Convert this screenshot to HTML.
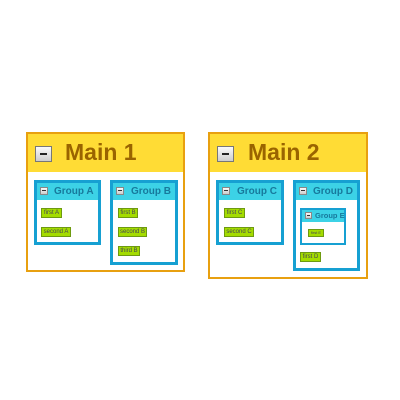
<!DOCTYPE html>
<html><head><style>
body{margin:0;width:400px;height:400px;background:#fff;position:relative;font-family:"Liberation Sans",sans-serif;overflow:hidden}
.a{position:absolute;box-sizing:border-box}
.main{border:2px solid #e8a010;background:#fff}
.mh{background:#ffdc35}
.mb{background:linear-gradient(#fafafa,#ccc);border:1px solid #777}
.mb:after{content:"";position:absolute;left:25%;right:25%;top:45%;height:2px;background:#222}
.mt{font-weight:bold;font-size:23px;color:#9a6400}
.g{border:3px solid #16a0d2;background:#fff}
.gh{background:#3cd2e6}
.sb{background:linear-gradient(#fafafa,#ccc);border:1px solid #888}
.sb:after{content:"";position:absolute;left:20%;right:20%;top:40%;height:1px;background:#333}
.gt{font-weight:bold;font-size:10px;color:#17799c;line-height:12px}
.it{background:#a4dc00;border:1px solid #6e9a10;font-size:6px;color:#445;line-height:8px;text-align:center;white-space:nowrap}
</style></head><body>
<div class="a main" style="left:26px;top:132px;width:159px;height:140px"></div>
<div class="a mh" style="left:28px;top:134px;width:155px;height:38px"></div>
<div class="a mb" style="left:35px;top:146px;width:17px;height:16px"></div>
<div class="a mt" style="left:65px;top:139px">Main 1</div>

<div class="a main" style="left:208px;top:132px;width:160px;height:147px"></div>
<div class="a mh" style="left:210px;top:134px;width:156px;height:38px"></div>
<div class="a mb" style="left:217px;top:146px;width:17px;height:16px"></div>
<div class="a mt" style="left:248px;top:139px">Main 2</div>

<div class="a g" style="left:34px;top:180px;width:67px;height:65px"></div>
<div class="a gh" style="left:37px;top:183px;width:61px;height:17px"></div>
<div class="a sb" style="left:40px;top:187px;width:8px;height:8px"></div>
<div class="a gt" style="left:54px;top:186px">Group A</div>
<div class="a it" style="left:41px;top:208px;width:21px;height:10px">first A</div>
<div class="a it" style="left:41px;top:227px;width:30px;height:10px">second A</div>

<div class="a g" style="left:110px;top:180px;width:68px;height:85px"></div>
<div class="a gh" style="left:113px;top:183px;width:62px;height:17px"></div>
<div class="a sb" style="left:116px;top:187px;width:8px;height:8px"></div>
<div class="a gt" style="left:131px;top:186px">Group B</div>
<div class="a it" style="left:118px;top:208px;width:20px;height:10px">first B</div>
<div class="a it" style="left:118px;top:227px;width:29px;height:10px">second B</div>
<div class="a it" style="left:118px;top:246px;width:22px;height:10px">third B</div>

<div class="a g" style="left:216px;top:180px;width:68px;height:65px"></div>
<div class="a gh" style="left:219px;top:183px;width:62px;height:17px"></div>
<div class="a sb" style="left:222px;top:187px;width:8px;height:8px"></div>
<div class="a gt" style="left:237px;top:186px">Group C</div>
<div class="a it" style="left:224px;top:208px;width:21px;height:10px">first C</div>
<div class="a it" style="left:224px;top:227px;width:30px;height:10px">second C</div>

<div class="a g" style="left:293px;top:180px;width:67px;height:91px"></div>
<div class="a gh" style="left:296px;top:183px;width:61px;height:17px"></div>
<div class="a sb" style="left:299px;top:187px;width:8px;height:8px"></div>
<div class="a gt" style="left:313px;top:186px">Group D</div>
<div class="a g" style="left:300px;top:208px;width:46px;height:37px;border-width:2px"></div>
<div class="a gh" style="left:302px;top:210px;width:42px;height:12px"></div>
<div class="a sb" style="left:305px;top:212px;width:7px;height:7px"></div>
<div class="a gt" style="left:315px;top:211px;font-size:7.5px;line-height:10px">Group E</div>
<div class="a it" style="left:308px;top:229px;width:16px;height:8px;font-size:4px;line-height:6px">first E</div>
<div class="a it" style="left:300px;top:252px;width:21px;height:10px">first D</div>
</body></html>
